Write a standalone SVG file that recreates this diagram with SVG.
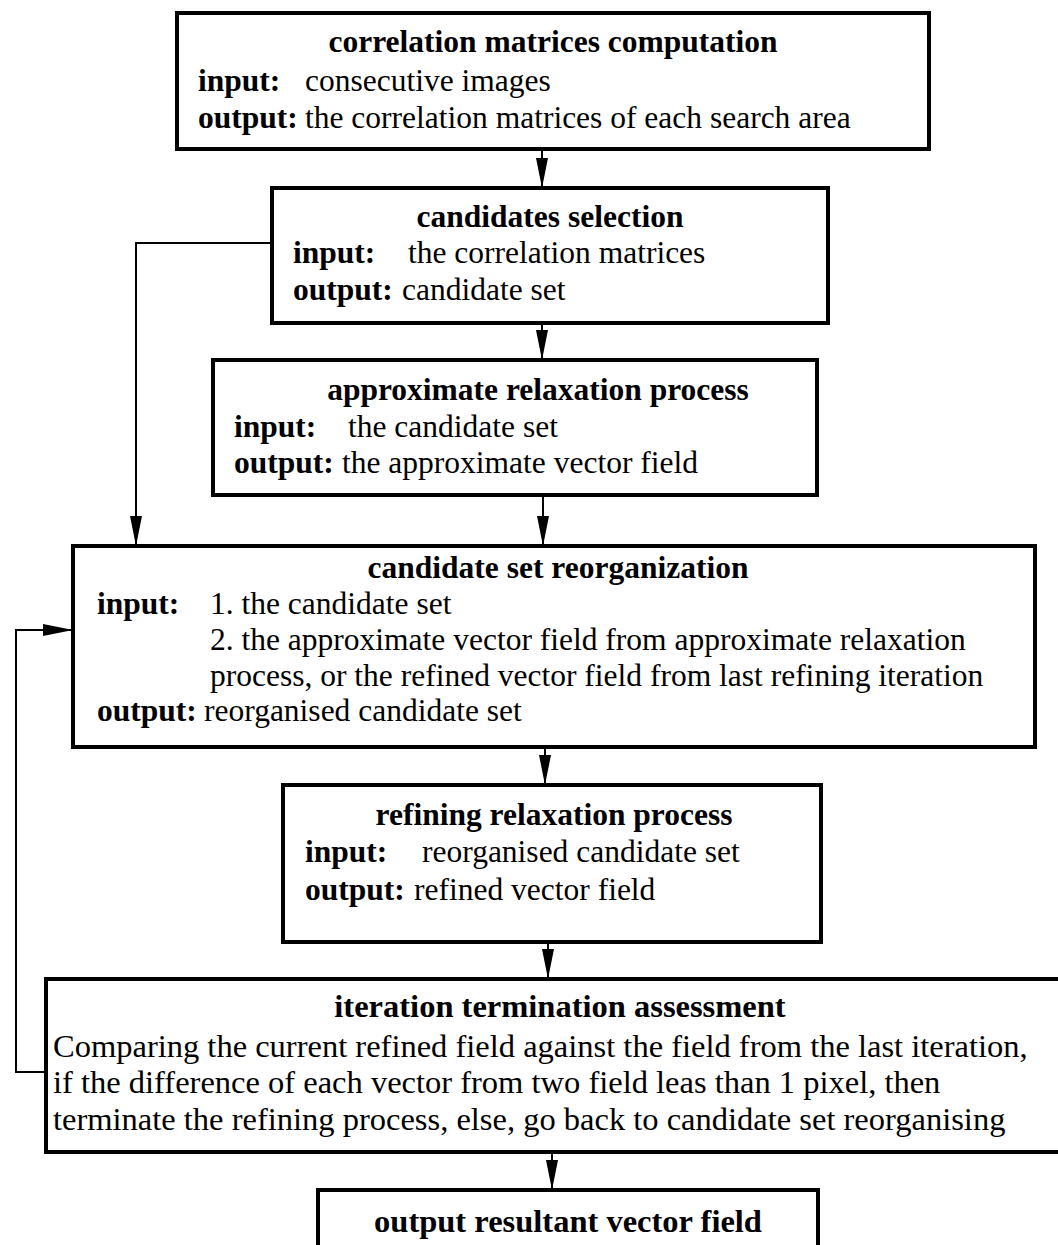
<svg xmlns="http://www.w3.org/2000/svg" width="1058" height="1245" viewBox="0 0 1058 1245">
<defs>
<marker id="ah" markerUnits="userSpaceOnUse" markerWidth="30" markerHeight="12" refX="30" refY="6" orient="auto">
<path d="M0,0 L30,6 L0,12 z" fill="#000"/>
</marker>
<style>
.box{fill:#fff;stroke:#000;stroke-width:4}
.t{font-family:"Liberation Serif","Times New Roman",serif;font-size:31.5px;fill:#000}
.b{font-weight:bold}
.c{text-anchor:middle}
.big{font-size:32.5px}
.ln{fill:none;stroke:#000;stroke-width:2}
</style>
</defs>
<rect width="1058" height="1245" fill="#fff"/>
<g id="connectors">
<line class="ln" x1="542" y1="149" x2="542" y2="188" marker-end="url(#ah)"/>
<line class="ln" x1="542" y1="323" x2="542" y2="360" marker-end="url(#ah)"/>
<line class="ln" x1="543" y1="495" x2="543" y2="546" marker-end="url(#ah)"/>
<line class="ln" x1="545" y1="747" x2="545" y2="785" marker-end="url(#ah)"/>
<line class="ln" x1="548" y1="942" x2="548" y2="979" marker-end="url(#ah)"/>
<line class="ln" x1="552" y1="1152" x2="552" y2="1190" marker-end="url(#ah)"/>
<path class="ln" d="M272,243 H136 V546" marker-end="url(#ah)"/>
<path class="ln" d="M46,1072 H16 V630 H73" marker-end="url(#ah)"/>
</g>
<g id="n1">
<rect class="box" x="177" y="13" width="752" height="136"/>
<text class="t b c" x="553" y="52">correlation matrices computation</text>
<text class="t b" x="198" y="91">input:</text>
<text class="t" x="305" y="91">consecutive images</text>
<text class="t b" x="198" y="128">output:</text>
<text class="t" x="305" y="128">the correlation matrices of each search area</text>
</g>
<g id="n2">
<rect class="box" x="272" y="188" width="556" height="135"/>
<text class="t b c" x="550" y="227">candidates selection</text>
<text class="t b" x="293" y="263">input:</text>
<text class="t" x="408" y="263">the correlation matrices</text>
<text class="t b" x="293" y="300">output:</text>
<text class="t" x="402" y="300">candidate set</text>
</g>
<g id="n3">
<rect class="box" x="213" y="360" width="604" height="135"/>
<text class="t b c" x="538" y="400">approximate relaxation process</text>
<text class="t b" x="234" y="437">input:</text>
<text class="t" x="348" y="437">the candidate set</text>
<text class="t b" x="234" y="473">output:</text>
<text class="t" x="342" y="473">the approximate vector field</text>
</g>
<g id="n4">
<rect class="box" x="73" y="546" width="962" height="201"/>
<text class="t b c" x="558" y="578">candidate set reorganization</text>
<text class="t b" x="97" y="614">input:</text>
<text class="t" x="210" y="614">1. the candidate set</text>
<text class="t" x="210" y="650">2. the approximate vector field from approximate relaxation</text>
<text class="t" x="210" y="686">process, or the refined vector field from last refining iteration</text>
<text class="t b" x="97" y="721">output:</text>
<text class="t" x="204" y="721">reorganised candidate set</text>
</g>
<g id="n5">
<rect class="box" x="283" y="785" width="538" height="157"/>
<text class="t b c" x="554" y="825">refining relaxation process</text>
<text class="t b" x="305" y="862">input:</text>
<text class="t" x="422" y="862">reorganised candidate set</text>
<text class="t b" x="305" y="900">output:</text>
<text class="t" x="414" y="900">refined vector field</text>
</g>
<g id="n6">
<rect class="box" x="46" y="979" width="1030" height="173"/>
<text class="t b c big" x="560" y="1017">iteration termination assessment</text>
<text class="t big" x="53" y="1057">Comparing the current refined field against the field from the last iteration,</text>
<text class="t big" x="53" y="1093">if the difference of each vector from two field leas than 1 pixel, then</text>
<text class="t big" x="53" y="1130">terminate the refining process, else, go back to candidate set reorganising</text>
</g>
<g id="n7">
<rect class="box" x="318" y="1190" width="500" height="80"/>
<text class="t b c big" x="568" y="1232">output resultant vector field</text>
</g>
</svg>
